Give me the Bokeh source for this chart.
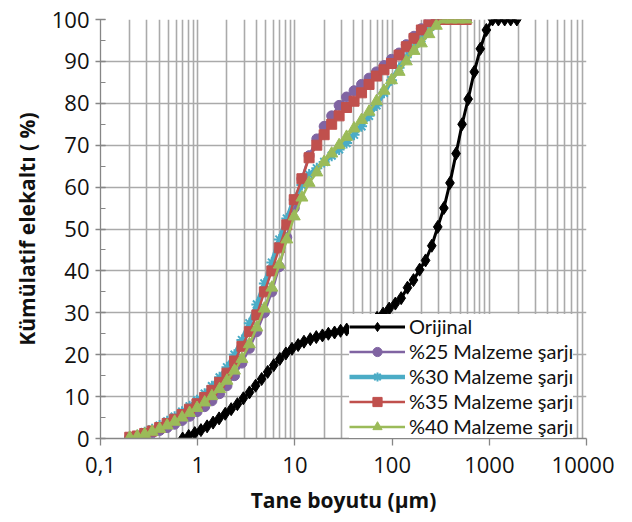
from bokeh.plotting import figure
from bokeh.models import (Range1d, FixedTicker, SingleIntervalTicker, Legend, LegendItem,
                          CustomJSTickFormatter)
from bokeh.embed import file_html
from bokeh.resources import INLINE

# ---------------- data ----------------
size_um = [0.2, 0.239, 0.285, 0.340, 0.406, 0.485, 0.579, 0.691, 0.825, 0.985,
           1.18, 1.40, 1.68, 2.00, 2.39, 2.85, 3.40, 4.06, 4.85, 5.79,
           6.91, 8.25, 9.85, 11.8, 14.0, 16.8, 20.0, 23.9, 28.5, 34.0,
           40.6, 48.5, 57.9, 69.1, 82.5, 98.5, 118, 140, 168, 200,
           239, 285, 340, 406, 485, 579]

pct25 = [0.2, 0.4, 0.8, 1.3, 1.9, 2.6, 3.4, 4.3, 5.3, 6.4,
         7.6, 9.0, 10.7, 12.6, 15.0, 18.0, 21.5, 25.5, 30.0, 35.0,
         41.0, 48.0, 55.0, 62.0, 67.5, 71.5, 74.5, 77.0, 79.5, 81.5,
         83.0, 84.5, 86.0, 87.5, 89.0, 90.5, 92.0, 94.0, 96.0, 97.8,
         99.3, 100, 100, 100, 100, 100]

pct30 = [0.4, 0.8, 1.5, 2.2, 3.1, 4.1, 5.2, 6.4, 7.7, 9.1,
         10.7, 12.5, 14.6, 17.0, 20.0, 23.5, 27.5, 32.0, 37.0, 42.0,
         47.5, 52.5, 57.0, 60.5, 63.0, 64.5, 66.0, 67.5, 69.0, 70.5,
         72.5, 74.5, 77.0, 79.5, 82.5, 85.5, 88.5, 91.0, 93.5, 95.5,
         97.5, 99.5, 100, 100, 100, 100]

pct35 = [0.3, 0.6, 1.2, 1.8, 2.6, 3.6, 4.6, 5.7, 7.0, 8.3,
         9.8, 11.5, 13.4, 15.6, 18.5, 22.0, 25.5, 29.5, 35.0, 40.0,
         45.5, 51.0, 57.0, 62.0, 67.0, 70.0, 72.5, 75.0, 77.0, 79.0,
         80.5, 82.5, 84.5, 86.5, 88.0, 89.5, 91.5, 93.5, 95.5, 97.5,
         99.5, 100, 100, 100, 100, 100]

pct40 = [0.2, 0.5, 1.0, 1.6, 2.3, 3.1, 4.0, 5.0, 6.1, 7.3,
         8.6, 10.1, 11.8, 13.8, 16.2, 19.0, 22.5, 26.5, 31.0, 36.0,
         41.5, 47.5, 53.0, 57.5, 61.0, 63.5, 66.0, 68.0, 70.0, 72.0,
         74.0, 76.0, 78.0, 80.5, 83.0, 85.5, 87.5, 90.0, 92.5, 94.3,
         96.5, 98.5, 100, 100, 100, 100]

orig_size = [0.700, 0.808, 0.933, 1.08, 1.25, 1.44, 1.66, 1.92, 2.21, 2.56,
             2.95, 3.41, 3.94, 4.55, 5.25, 6.06, 7.00, 8.08, 9.33, 10.8,
             12.4, 14.4, 16.6, 19.2, 22.1, 25.6, 29.5, 34.1, 39.4, 45.5,
             52.5, 60.6, 70.0, 80.8, 93.3, 108, 124, 144, 166, 192,
             221, 256, 295, 341, 394, 455, 525, 606, 700, 808,
             933, 1080, 1240, 1440, 1660, 1920]
orig_pct = [0.0, 0.6, 1.3, 2.0, 2.9, 3.8, 4.8, 5.9, 7.0, 8.2,
            9.6, 11.0, 12.6, 14.2, 15.9, 17.5, 19.0, 20.3, 21.4, 22.3,
            23.1, 23.7, 24.2, 24.6, 25.0, 25.3, 25.7, 26.0, 26.4, 26.8,
            27.3, 28.0, 28.8, 29.8, 31.0, 32.2, 33.5, 36.0, 37.8, 40.3,
            42.5, 46.0, 50.5, 55.0, 61.0, 68.0, 75.0, 81.0, 87.5, 93.0,
            97.5, 100, 100, 100, 100, 100]

x_ticks = [0.1, 1, 10, 100, 1000, 10000]
x_tick_labels = ["0,1", "1", "10", "100", "1000", "10000"]
x_title = "Tane boyutu (µm)"
y_title = "Kümülatif elekaltı ( %)"
names = ["Orijinal", "%25 Malzeme şarjı", "%30 Malzeme şarjı",
         "%35 Malzeme şarjı", "%40 Malzeme şarjı"]

# ---------------- figure ----------------
FONT = "Open Sans"
LFONT = "Lato"
GRID = "#aaaaaa"
AXIS = "#868686"

p = figure(x_axis_type="log", x_range=Range1d(0.1, 10000), y_range=Range1d(0, 100),
           frame_width=486, frame_height=419,
           min_border_left=100, min_border_right=28, min_border_top=19, min_border_bottom=76,
           output_backend="svg", toolbar_location=None)
p.outline_line_color = None
p.background_fill_color = "white"
p.border_fill_color = "white"

minor = [m * d for d in [0.1, 1, 10, 100, 1000] for m in range(2, 10)]
p.xaxis.ticker = FixedTicker(ticks=x_ticks, minor_ticks=minor)
p.xaxis.formatter = CustomJSTickFormatter(
    args=dict(tick_vals=x_ticks, tick_labels=x_tick_labels),
    code="""
    for (let i = 0; i < tick_vals.length; i++) {
        if (Math.abs(Math.log10(tick_vals[i]) - Math.log10(tick)) < 1e-6) return tick_labels[i];
    }
    return '';
    """)
p.yaxis.ticker = SingleIntervalTicker(interval=10, num_minor_ticks=2)

for ax in (p.xaxis[0], p.yaxis[0]):
    ax.axis_line_color = AXIS
    ax.axis_line_width = 1.3
    ax.major_tick_line_color = AXIS
    ax.major_tick_line_width = 1.3
    ax.minor_tick_line_color = AXIS
    ax.major_label_text_font = FONT
    ax.major_label_text_font_size = "22px"
    ax.major_label_text_color = "#111111"
    ax.axis_label_text_font = FONT
    ax.axis_label_text_font_size = "21px"
    ax.axis_label_text_font_style = "bold"
    ax.axis_label_text_color = "#111111"

p.xaxis.axis_label = x_title
p.yaxis.axis_label = y_title
p.xaxis.major_tick_in = 0
p.xaxis.major_tick_out = 7
p.xaxis.minor_tick_line_color = None
p.xaxis.major_label_standoff = 11
p.xaxis.axis_label_standoff = 10
p.yaxis.major_tick_in = 5
p.yaxis.major_tick_out = 5
p.yaxis.minor_tick_in = 5
p.yaxis.minor_tick_out = 0
p.yaxis.major_label_standoff = 6
p.yaxis.axis_label_standoff = 8

p.xgrid.grid_line_color = GRID
p.xgrid.grid_line_width = 1.6
p.xgrid.minor_grid_line_color = GRID
p.xgrid.minor_grid_line_width = 1.6
p.ygrid.grid_line_color = GRID
p.ygrid.grid_line_width = 1.6

# ---------------- series ----------------
items = []

l0 = p.line(orig_size, orig_pct, line_color="black", line_width=3)
m0 = p.scatter(orig_size, orig_pct, marker="diamond", size=13,
               fill_color="black", line_color="black")
items.append(LegendItem(label=names[0], renderers=[l0, m0]))

PURPLE, CYAN, RED, GREEN = "#8064A2", "#4BACC6", "#C0504D", "#9BBB59"

l1 = p.line(size_um, pct25, line_color=PURPLE, line_width=2.5)
m1 = p.scatter(size_um, pct25, marker="circle", size=10, fill_color=PURPLE, line_color=PURPLE)
items.append(LegendItem(label=names[1], renderers=[l1, m1]))

l2 = p.line(size_um, pct30, line_color=CYAN, line_width=4.5)
m2 = p.scatter(size_um, pct30, marker="asterisk", size=11, line_color=CYAN, line_width=2)
items.append(LegendItem(label=names[2], renderers=[l2, m2]))

l3 = p.line(size_um, pct35, line_color=RED, line_width=2.5)
m3 = p.scatter(size_um, pct35, marker="square", size=10, fill_color=RED, line_color=RED)
items.append(LegendItem(label=names[3], renderers=[l3, m3]))

l4 = p.line(size_um, pct40, line_color=GREEN, line_width=2.5)
m4 = p.scatter(size_um, pct40, marker="triangle", size=12, fill_color=GREEN, line_color=GREEN)
items.append(LegendItem(label=names[4], renderers=[l4, m4]))

legend = Legend(items=items, location=(249, 0), orientation="vertical",
                label_text_font=LFONT, label_text_font_size="20px", label_text_color="#111111",
                glyph_width=56, glyph_height=23, label_height=23, spacing=1,
                label_standoff=4, padding=1, margin=0,
                background_fill_color="white", background_fill_alpha=1.0,
                border_line_color=None)
p.add_layout(legend, "center")

open("out.html", "w").write(file_html(p, INLINE))
